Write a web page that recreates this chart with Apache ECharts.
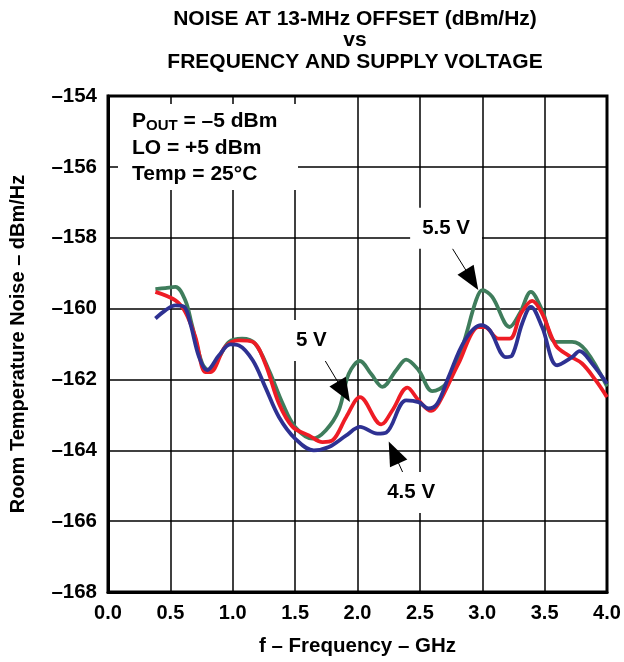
<!DOCTYPE html>
<html>
<head>
<meta charset="utf-8">
<script src="https://cdn.jsdelivr.net/npm/echarts@6/dist/echarts.min.js"></script>
<style>
  html, body { margin: 0; padding: 0; background: #fff; }
  #chart { width: 624px; height: 662px; }
</style>
</head>
<body>
<div id="chart"></div>
<script>
  // values
  const freq55 = [0.38, 0.46, 0.54, 0.62, 0.67, 0.755, 0.81, 0.89, 0.97, 1.075, 1.18, 1.29, 1.40, 1.50, 1.64, 1.745, 1.85, 1.93, 2.02, 2.11, 2.20, 2.31, 2.39, 2.49, 2.60, 2.71, 2.84, 2.95, 3.0, 3.08, 3.22, 3.30, 3.39, 3.48, 3.59, 3.72, 3.83, 4.0]
  const noise55 = [-159.45, -159.42, -159.39, -159.77, -160.42, -161.55, -161.74, -161.37, -160.94, -160.85, -160.99, -161.74, -162.68, -163.34, -163.67, -163.44, -162.87, -161.84, -161.48, -161.85, -162.21, -161.74, -161.44, -161.74, -162.33, -162.12, -161.08, -159.77, -159.48, -159.67, -160.52, -160.14, -159.53, -160.05, -160.94, -160.94, -161.18, -162.2]

  const freq50 = [0.38, 0.54, 0.62, 0.70, 0.78, 0.82, 0.94, 1.05, 1.16, 1.26, 1.37, 1.48, 1.61, 1.72, 1.80, 1.91, 2.02, 2.19, 2.28, 2.40, 2.49, 2.59, 2.65, 2.81, 2.97, 3.02, 3.13, 3.22, 3.31, 3.40, 3.48, 3.59, 3.69, 3.80, 3.91, 4.0]
  const noise50 = [-159.53, -159.77, -160.1, -160.8, -161.79, -161.79, -161.08, -160.9, -160.94, -161.55, -162.68, -163.34, -163.58, -163.77, -163.72, -163.06, -162.5, -163.27, -162.87, -162.23, -162.59, -162.89, -162.68, -161.55, -160.52, -160.52, -160.85, -160.85, -160.14, -159.78, -160.14, -161.04, -161.32, -161.55, -162.03, -162.5]

  const freq45 = [0.38, 0.46, 0.54, 0.61, 0.66, 0.73, 0.795, 0.89, 0.98, 1.05, 1.16, 1.26, 1.37, 1.50, 1.65, 1.77, 1.91, 2.02, 2.16, 2.23, 2.39, 2.49, 2.57, 2.64, 2.73, 2.86, 2.99, 3.06, 3.19, 3.24, 3.32, 3.39, 3.48, 3.60, 3.72, 3.78, 3.88, 4.0]
  const noise45 = [-160.28, -160.05, -159.91, -159.95, -160.42, -161.37, -161.74, -161.32, -161.01, -161.04, -161.46, -162.21, -163.06, -163.67, -164.0, -163.91, -163.58, -163.34, -163.53, -163.5, -162.59, -162.64, -162.82, -162.68, -161.93, -160.9, -160.47, -160.61, -161.37, -161.32, -160.42, -159.95, -160.52, -161.6, -161.37, -161.2, -161.55, -162.12]

  const seriesNames = ['5.5 V', '5 V', '4.5 V']
  const seriesColors = ['#3f7d5c', '#ee1c25', '#2e3192']
  // label position, arrow start, arrow head centre (data coords)
  const labelAt = [[2.71, -157.73], [1.63, -160.9], [2.43, -165.19]]
  const arrowFrom = [[2.76, -158.3], [1.73, -161.41], [2.37, -164.68]]
  const arrowTo = [[2.917, -159.19], [1.89, -162.35], [2.29, -164.06]]

  const font = '"Liberation Sans", Arial, sans-serif'
  const dash = '\u2013'

  function pairs (xs, ys) {
    return xs.map((x, i) => [x, ys[i]])
  }

  const dataSets = [pairs(freq55, noise55), pairs(freq50, noise50), pairs(freq45, noise45)]

  let chart = echarts.init(document.getElementById('chart'))
  chart.setOption({
    backgroundColor: '#fff',
    animation: false,
    title: {
      text: 'NOISE AT 13-MHz OFFSET (dBm/Hz)\nvs\nFREQUENCY AND SUPPLY VOLTAGE',
      left: 350,
      top: 3,
      textAlign: 'center',
      textStyle: {
        fontFamily: font,
        fontWeight: 'bold',
        fontSize: 21,
        lineHeight: 21.5,
        color: '#000'
      }
    },
    grid: {
      left: 108,
      right: 17,
      top: 96,
      bottom: 70,
      show: true,
      borderColor: '#000',
      borderWidth: 3
    },
    xAxis: {
      type: 'value',
      min: 0,
      max: 4,
      interval: 0.5,
      name: 'f ' + dash + ' Frequency ' + dash + ' GHz',
      nameLocation: 'middle',
      nameGap: 44,
      nameTextStyle: {fontFamily: font, fontWeight: 'bold', fontSize: 20.5, color: '#000'},
      axisLine: {show: true, lineStyle: {color: '#000', width: 3}},
      axisTick: {show: false},
      axisLabel: {
        margin: 11,
        fontFamily: font,
        fontWeight: 'bold',
        fontSize: 20,
        color: '#000',
        formatter: v => v.toFixed(1)
      },
      splitLine: {show: true, lineStyle: {color: '#000', width: 1.5}}
    },
    yAxis: {
      type: 'value',
      min: -168,
      max: -154,
      interval: 2,
      name: 'Room Temperature Noise ' + dash + ' dBm/Hz',
      nameLocation: 'middle',
      nameGap: 80,
      nameTextStyle: {fontFamily: font, fontWeight: 'bold', fontSize: 20, color: '#000'},
      axisLine: {show: true, lineStyle: {color: '#000', width: 3}},
      axisTick: {show: false},
      axisLabel: {
        margin: 11,
        fontFamily: font,
        fontWeight: 'bold',
        fontSize: 20.5,
        color: '#000',
        formatter: v => dash + Math.abs(v)
      },
      splitLine: {show: true, lineStyle: {color: '#000', width: 1.5}}
    },
    graphic: [
      {
        type: 'rect',
        z: 10,
        shape: {x: 118, y: 104, width: 180, height: 86},
        style: {fill: '#fff'}
      },
      {
        type: 'text',
        z: 11,
        x: 132,
        y: 108,
        style: {
          text: '{b|P}{s|OUT}{b| = ' + dash + '5 dBm}\n{b|LO = +5 dBm}\n{b|Temp = 25\u00B0C}',
          fontFamily: font,
          rich: {
            b: {fontFamily: font, fontWeight: 'bold', fontSize: 21, lineHeight: 26.5, fill: '#000'},
            s: {fontFamily: font, fontWeight: 'bold', fontSize: 15, lineHeight: 26.5, fill: '#000', padding: [10, 0, 0, 0]}
          }
        }
      }
    ],
    series: dataSets.map((d, i) => ({
      name: seriesNames[i],
      type: 'line',
      data: d,
      symbol: 'none',
      smooth: 0.35,
      lineStyle: {color: seriesColors[i], width: 3.8},
      z: 2 + i,
      markLine: {
        silent: true,
        symbol: ['none', 'triangle'],
        symbolSize: [19, 24],
        lineStyle: {color: '#000', width: 1, type: 'solid'},
        itemStyle: {color: '#111'},
        label: {show: false},
        data: [[{coord: arrowFrom[i]}, {coord: arrowTo[i]}]]
      },
      markPoint: {
        silent: true,
        symbol: 'rect',
        symbolSize: 1,
        itemStyle: {color: 'rgba(0,0,0,0)'},
        label: {
          show: true,
          position: 'inside',
          formatter: seriesNames[i],
          fontFamily: font,
          fontWeight: 'bold',
          fontSize: 20.5,
          color: '#000',
          backgroundColor: '#fff',
          padding: [10, 12]
        },
        data: [{coord: labelAt[i]}]
      }
    }))
  })
</script>
</body>
</html>
